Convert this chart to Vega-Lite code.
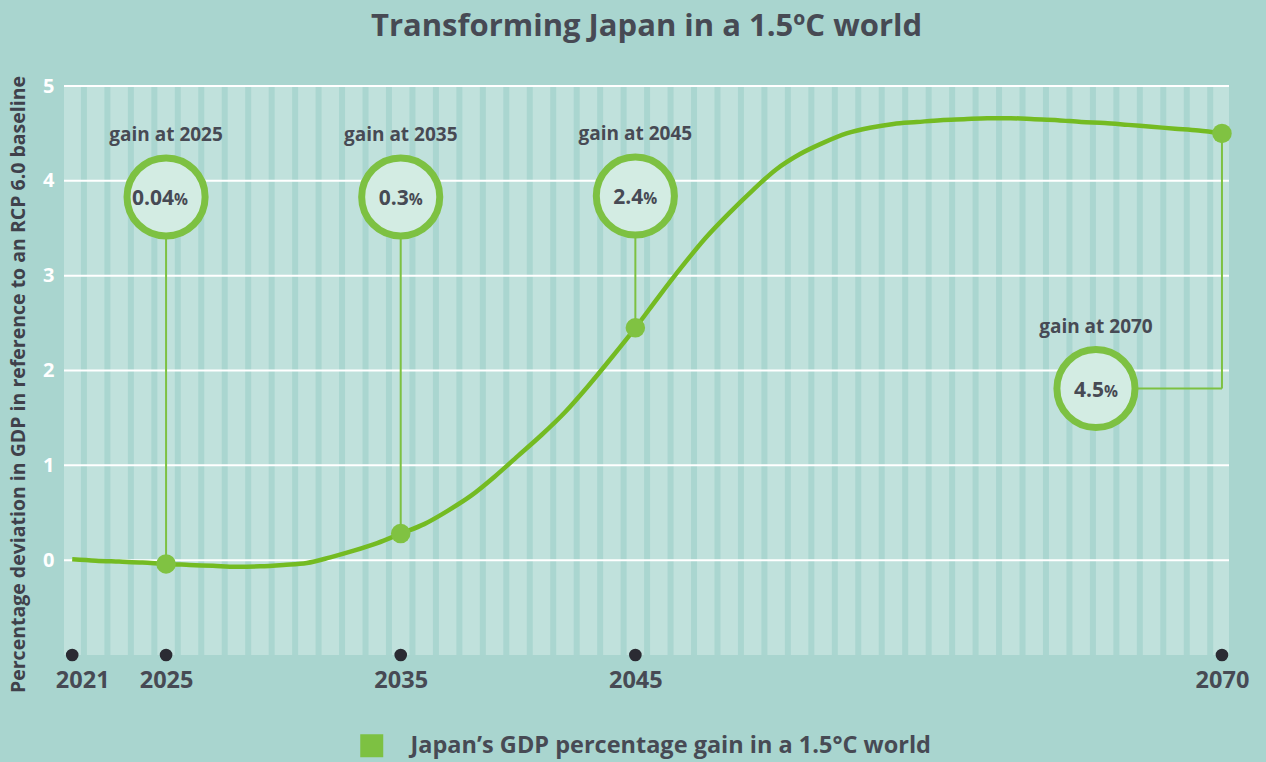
{
  "$schema": "https://vega.github.io/schema/vega-lite/v6.json",
  "width": 1165,
  "height": 569,
  "autosize": {"type": "none"},
  "padding": {"left": 64, "top": 86, "right": 37, "bottom": 107},
  "background": "#a9d5cf",
  "title": {
    "text": "Transforming Japan in a 1.5ºC world",
    "font": "Open Sans",
    "fontSize": 31,
    "fontWeight": "bold",
    "color": "#474a54",
    "anchor": "middle",
    "frame": "group",
    "baseline": "alphabetic",
    "offset": 8
  },
  "config": {
    "view": {"fill": "#c0e1dc", "stroke": null},
    "font": "Open Sans"
  },
  "datasets": {
    "stripes": [
      {"s": 2021.5}, {"s": 2022.5}, {"s": 2023.5}, {"s": 2024.5}, {"s": 2025.5}, {"s": 2026.5}, {"s": 2027.5}, {"s": 2028.5}, {"s": 2029.5}, {"s": 2030.5},
      {"s": 2031.5}, {"s": 2032.5}, {"s": 2033.5}, {"s": 2034.5}, {"s": 2035.5}, {"s": 2036.5}, {"s": 2037.5}, {"s": 2038.5}, {"s": 2039.5}, {"s": 2040.5},
      {"s": 2041.5}, {"s": 2042.5}, {"s": 2043.5}, {"s": 2044.5}, {"s": 2045.5}, {"s": 2046.5}, {"s": 2047.5}, {"s": 2048.5}, {"s": 2049.5}, {"s": 2050.5},
      {"s": 2051.5}, {"s": 2052.5}, {"s": 2053.5}, {"s": 2054.5}, {"s": 2055.5}, {"s": 2056.5}, {"s": 2057.5}, {"s": 2058.5}, {"s": 2059.5}, {"s": 2060.5},
      {"s": 2061.5}, {"s": 2062.5}, {"s": 2063.5}, {"s": 2064.5}, {"s": 2065.5}, {"s": 2066.5}, {"s": 2067.5}, {"s": 2068.5}, {"s": 2069.5}
    ],
    "grid": [{"g": 0}, {"g": 1}, {"g": 2}, {"g": 3}, {"g": 4}, {"g": 5}],
    "series": [
      {"year": 2021, "value": 0.01}, {"year": 2022, "value": -0.005}, {"year": 2023, "value": -0.015}, {"year": 2024, "value": -0.025},
      {"year": 2025, "value": -0.04}, {"year": 2026, "value": -0.05}, {"year": 2027, "value": -0.06}, {"year": 2028, "value": -0.07},
      {"year": 2029, "value": -0.065}, {"year": 2030, "value": -0.05}, {"year": 2031, "value": -0.03}, {"year": 2032, "value": 0.03},
      {"year": 2033, "value": 0.1}, {"year": 2034, "value": 0.18}, {"year": 2035, "value": 0.28}, {"year": 2036, "value": 0.38},
      {"year": 2037, "value": 0.52}, {"year": 2038, "value": 0.68}, {"year": 2039, "value": 0.88}, {"year": 2040, "value": 1.1},
      {"year": 2041, "value": 1.32}, {"year": 2042, "value": 1.56}, {"year": 2043, "value": 1.84}, {"year": 2044, "value": 2.14},
      {"year": 2045, "value": 2.45}, {"year": 2046, "value": 2.78}, {"year": 2047, "value": 3.1}, {"year": 2048, "value": 3.4},
      {"year": 2049, "value": 3.66}, {"year": 2050, "value": 3.9}, {"year": 2051, "value": 4.12}, {"year": 2052, "value": 4.28},
      {"year": 2053, "value": 4.4}, {"year": 2054, "value": 4.5}, {"year": 2055, "value": 4.56}, {"year": 2056, "value": 4.6},
      {"year": 2057, "value": 4.62}, {"year": 2058, "value": 4.64}, {"year": 2059, "value": 4.65}, {"year": 2060, "value": 4.66},
      {"year": 2061, "value": 4.66}, {"year": 2062, "value": 4.65}, {"year": 2063, "value": 4.64}, {"year": 2064, "value": 4.62},
      {"year": 2065, "value": 4.61}, {"year": 2066, "value": 4.59}, {"year": 2067, "value": 4.57}, {"year": 2068, "value": 4.55},
      {"year": 2069, "value": 4.53}, {"year": 2070, "value": 4.5}
    ],
    "callouts": [
      {"year": 2025, "value": -0.04, "cx": 2025, "cy": 3.83, "ly": 4.49, "num": "0.04", "label": "gain at 2025"},
      {"year": 2035, "value": 0.28, "cx": 2035, "cy": 3.83, "ly": 4.49, "num": "0.3", "label": "gain at 2035"},
      {"year": 2045, "value": 2.45, "cx": 2045, "cy": 3.84, "ly": 4.5, "num": "2.4", "label": "gain at 2045"},
      {"year": 2070, "value": 4.5, "cx": 2064.63, "cy": 1.81, "ly": 2.47, "num": "4.5", "label": "gain at 2070"}
    ],
    "ticks": [{"t": 2021}, {"t": 2025}, {"t": 2035}, {"t": 2045}, {"t": 2070}]
  },
  "layer": [
    {
      "data": {"name": "stripes"},
      "mark": {"type": "rule", "strokeWidth": 6, "color": "#aad6d0"},
      "encoding": {
        "x": {"field": "s", "type": "quantitative", "scale": {"domain": [2020.65, 2070.3], "nice": false, "zero": false},
          "title": null,
          "axis": {
            "values": [2021, 2025, 2035, 2045, 2070],
            "format": "d",
            "grid": false, "domain": false, "ticks": false,
            "labelFont": "Open Sans", "labelFontSize": 23.5, "labelFontWeight": "bold", "labelColor": "#474a54",
            "labelPadding": 13,
            "labelOffset": {"condition": {"test": "datum.value === 2021", "value": 10}, "value": 0}
          }
        }
      }
    },
    {
      "data": {"name": "grid"},
      "mark": {"type": "rule", "strokeWidth": 2, "color": "#ffffff"},
      "encoding": {
        "y": {"field": "g", "type": "quantitative", "scale": {"domain": [-1, 5], "nice": false, "zero": false},
          "title": "Percentage deviation in GDP in reference to an RCP 6.0 baseline",
          "axis": {
            "values": [0, 1, 2, 3, 4, 5],
            "format": "d",
            "grid": false, "domain": false, "ticks": false,
            "labelFont": "Open Sans", "labelFontSize": 20, "labelFontWeight": "bold", "labelColor": "#ffffff",
            "labelPadding": 10,
            "titleFont": "Open Sans", "titleFontSize": 19.5, "titleFontWeight": "bold", "titleColor": "#3f414b",
            "titlePadding": 14, "titleY": 298
          }
        }
      }
    },
    {
      "mark": {"type": "rule", "strokeWidth": 2, "color": "#ffffff"},
      "encoding": {
        "x": {"datum": 2021, "type": "quantitative"},
        "x2": {"datum": 2070},
        "y": {"datum": -1, "type": "quantitative"}
      }
    },
    {
      "data": {"name": "callouts"},
      "mark": {"type": "rule", "strokeWidth": 2, "color": "#7dc142"},
      "encoding": {
        "x": {"field": "year", "type": "quantitative"},
        "y": {"field": "cy", "type": "quantitative"},
        "y2": {"field": "value"}
      }
    },
    {
      "data": {"name": "callouts"},
      "mark": {"type": "rule", "strokeWidth": 2, "color": "#7dc142"},
      "encoding": {
        "x": {"field": "cx", "type": "quantitative"},
        "x2": {"field": "year"},
        "y": {"field": "cy", "type": "quantitative"}
      }
    },
    {
      "data": {"name": "series"},
      "transform": [{"calculate": "'Japan’s GDP percentage gain in a 1.5°C world'", "as": "series"}],
      "mark": {"type": "line", "strokeWidth": 4.5, "interpolate": "monotone"},
      "encoding": {
        "x": {"field": "year", "type": "quantitative"},
        "y": {"field": "value", "type": "quantitative"},
        "color": {
          "field": "series", "type": "nominal",
          "scale": {"range": ["#74bb22"]},
          "legend": {
            "title": null, "orient": "none", "legendX": 296, "legendY": 648, "padding": 0,
            "symbolType": "square", "symbolSize": 529, "symbolFillColor": "#7dc142", "symbolStrokeColor": "#7dc142", "symbolStrokeWidth": 0,
            "labelFont": "Open Sans", "labelFontSize": 23.5, "labelFontWeight": "bold", "labelColor": "#474a54",
            "labelOffset": 27, "labelLimit": 800
          }
        }
      }
    },
    {
      "data": {"name": "callouts"},
      "mark": {"type": "point", "shape": "circle", "filled": true, "size": 380, "color": "#80c242", "opacity": 1},
      "encoding": {
        "x": {"field": "year", "type": "quantitative"},
        "y": {"field": "value", "type": "quantitative"}
      }
    },
    {
      "data": {"name": "callouts"},
      "mark": {"type": "point", "shape": "circle", "size": 6100, "fill": "#d3ece3", "stroke": "#7dc142", "strokeWidth": 7, "opacity": 1, "fillOpacity": 1},
      "encoding": {
        "x": {"field": "cx", "type": "quantitative"},
        "y": {"field": "cy", "type": "quantitative"}
      }
    },
    {
      "data": {"name": "callouts"},
      "mark": {"type": "text", "font": "Open Sans", "fontSize": 21, "fontWeight": "bold", "color": "#474a54", "align": "right", "baseline": "alphabetic", "dx": 8, "dy": 8},
      "encoding": {
        "x": {"field": "cx", "type": "quantitative"},
        "y": {"field": "cy", "type": "quantitative"},
        "text": {"field": "num"}
      }
    },
    {
      "data": {"name": "callouts"},
      "mark": {"type": "text", "font": "Open Sans", "fontSize": 15.5, "fontWeight": "bold", "color": "#474a54", "align": "left", "baseline": "alphabetic", "dx": 8, "dy": 8, "text": "%"},
      "encoding": {
        "x": {"field": "cx", "type": "quantitative"},
        "y": {"field": "cy", "type": "quantitative"}
      }
    },
    {
      "data": {"name": "callouts"},
      "mark": {"type": "text", "font": "Open Sans", "fontSize": 19, "fontWeight": "bold", "color": "#474a54", "align": "center", "baseline": "alphabetic", "dy": 7},
      "encoding": {
        "x": {"field": "cx", "type": "quantitative"},
        "y": {"field": "ly", "type": "quantitative"},
        "text": {"field": "label"}
      }
    },
    {
      "data": {"name": "ticks"},
      "mark": {"type": "point", "shape": "circle", "filled": true, "size": 160, "color": "#2b2b33", "opacity": 1},
      "encoding": {
        "x": {"field": "t", "type": "quantitative"},
        "y": {"datum": -1, "type": "quantitative"}
      }
    }
  ]
}
